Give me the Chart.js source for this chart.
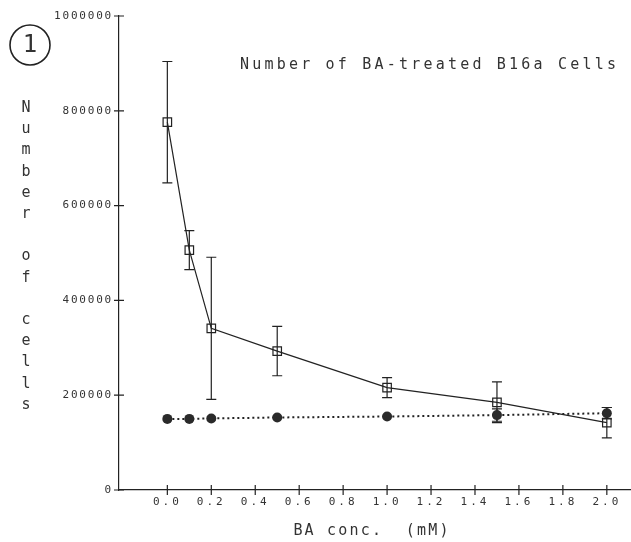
<!DOCTYPE html>
<html>
<head>
<meta charset="utf-8">
<script src="https://cdn.jsdelivr.net/npm/chart.js@4"></script>
<style>
    html, body { margin: 0; padding: 0; background: #fff; }
    #wrap { width: 631px; height: 542px; }
</style>
</head>
<body>
<div id="wrap"><canvas id="cells-chart" width="631" height="542"></canvas></div>
<script>
// Values
const concentrations = [0.0, 0.1, 0.2, 0.5, 1.0, 1.5, 2.0];
const treatedCells = [776000, 506000, 341000, 293000, 216000, 185000, 142000];
const treatedError = [128000, 41000, 150000, 52000, 21000, 43000, 32000];
const controlCells = [150000, 150000, 151000, 153000, 155000, 158000, 162000];
const controlError = [0, 0, 0, 0, 0, 13000, 12000];

const xTickValues = [0.0, 0.2, 0.4, 0.6, 0.8, 1.0, 1.2, 1.4, 1.6, 1.8, 2.0];
const yTickValues = [0, 200000, 400000, 600000, 800000, 1000000];

const chartTitle = 'Number of BA-treated B16a Cells';
const yAxisTitle = 'Number of cells';
const xAxisTitle = 'BA conc.  (mM)';
const panelLabel = '1';

const INK = '#222';
const TEXT = '#333';
const FONT = "'DejaVu Sans Mono', 'Liberation Mono', monospace";

// wide plotter-like spacing for the tick labels of one scale
function spaceLabels(chart, scale, spacing) {
    if (scale._spaced) return;
    const orig = scale.drawLabels.bind(scale);
    scale.drawLabels = area => {
        chart.ctx.letterSpacing = spacing;
        orig(area);
        chart.ctx.letterSpacing = '0px';
    };
    scale._spaced = true;
}

// Error bars + crossing tick marks + free text, all placed through the chart scales
const plotterPlugin = {
    id: 'plotter',
    afterLayout(chart) {
        spaceLabels(chart, chart.scales.x, '3px');
        spaceLabels(chart, chart.scales.y, '1.8px');
    },
    beforeDatasetsDraw(chart) {
        const { ctx, scales: { x, y } } = chart;
        const bars = [
            { values: treatedCells, errors: treatedError },
            { values: controlCells, errors: controlError }
        ];
        ctx.save();
        ctx.strokeStyle = INK;
        ctx.lineWidth = 1.2;
        bars.forEach(set => {
            set.values.forEach((v, i) => {
                const e = set.errors[i];
                if (!e) return;
                const px = x.getPixelForValue(concentrations[i]);
                const top = y.getPixelForValue(v + e);
                const bot = y.getPixelForValue(v - e);
                ctx.beginPath();
                ctx.moveTo(px, top); ctx.lineTo(px, bot);
                ctx.moveTo(px - 5, top); ctx.lineTo(px + 5, top);
                ctx.moveTo(px - 5, bot); ctx.lineTo(px + 5, bot);
                ctx.stroke();
            });
        });
        ctx.restore();
    },
    afterDraw(chart) {
        const { ctx, scales: { x, y } } = chart;
        ctx.save();
        ctx.strokeStyle = INK;
        ctx.lineWidth = 1.2;
        // ticks that cross the axis lines
        ctx.beginPath();
        yTickValues.forEach(v => {
            const py = y.getPixelForValue(v);
            ctx.moveTo(y.right - 5, py); ctx.lineTo(y.right + 5, py);
        });
        xTickValues.forEach(v => {
            const px = x.getPixelForValue(v);
            ctx.moveTo(px, x.top - 5); ctx.lineTo(px, x.top + 5);
        });
        ctx.stroke();

        ctx.fillStyle = TEXT;

        // title
        ctx.font = `15px ${FONT}`;
        ctx.letterSpacing = '3.2px';
        ctx.textAlign = 'left';
        ctx.textBaseline = 'middle';
        ctx.fillText(chartTitle, 240, 65);

        // stacked y axis title, one letter per line
        ctx.letterSpacing = '0px';
        ctx.textAlign = 'center';
        ctx.textBaseline = 'alphabetic';
        yAxisTitle.split('').forEach((ch, i) => {
            if (ch !== ' ') ctx.fillText(ch, 26, 112 + i * 21.2);
        });

        // x axis title
        ctx.letterSpacing = '2.2px';
        ctx.textBaseline = 'middle';
        ctx.fillText(xAxisTitle, 372, 531);

        // circled panel number
        ctx.letterSpacing = '0px';
        ctx.lineWidth = 1.6;
        ctx.beginPath();
        ctx.arc(30, 45, 20, 0, Math.PI * 2);
        ctx.stroke();
        ctx.font = `24px ${FONT}`;
        ctx.fillText(panelLabel, 30, 46);
        ctx.restore();
    }
};

new Chart(document.getElementById('cells-chart'), {
    type: 'scatter',
    data: {
        datasets: [
            {
                label: 'BA-treated',
                data: concentrations.map((c, i) => ({ x: c, y: treatedCells[i] })),
                showLine: true,
                borderColor: INK,
                borderWidth: 1.2,
                pointStyle: 'rect',
                pointRadius: 6,
                pointBorderWidth: 1.2,
                pointBorderColor: INK,
                pointBackgroundColor: 'rgba(0,0,0,0)'
            },
            {
                label: 'Control',
                data: concentrations.map((c, i) => ({ x: c, y: controlCells[i] })),
                showLine: true,
                borderColor: INK,
                borderWidth: 2,
                borderDash: [2, 3],
                pointStyle: 'circle',
                pointRadius: 5,
                pointBorderWidth: 0,
                pointBackgroundColor: '#2a2a2a'
            }
        ]
    },
    options: {
        responsive: false,
        animation: false,
        events: [],
        layout: { autoPadding: false, padding: { top: 16, right: 0, bottom: 0, left: 0 } },
        plugins: {
            legend: { display: false },
            title: { display: false },
            tooltip: { enabled: false }
        },
        scales: {
            x: {
                type: 'linear',
                min: -0.22,
                max: 2.11,
                afterBuildTicks: s => { s.ticks = xTickValues.map(v => ({ value: v })); },
                afterFit: s => { s.height = 52; s.paddingRight = 0; s.paddingLeft = 0; },
                grid: { display: false, drawTicks: false },
                border: { display: true, color: INK, width: 1.2 },
                ticks: {
                    padding: 6,
                    color: TEXT,
                    maxRotation: 0,
                    autoSkip: false,
                    font: { family: FONT, size: 11 },
                    callback: v => v.toFixed(1)
                }
            },
            y: {
                min: 0,
                max: 1000000,
                afterBuildTicks: s => { s.ticks = yTickValues.map(v => ({ value: v })); },
                afterFit: s => { s.width = 119; },
                grid: { display: false, drawTicks: false },
                border: { display: true, color: INK, width: 1.2 },
                ticks: {
                    padding: 6,
                    color: TEXT,
                    font: { family: FONT, size: 11 },
                    callback: v => String(v)
                }
            }
        }
    },
    plugins: [plotterPlugin]
});
</script>
</body>
</html>
